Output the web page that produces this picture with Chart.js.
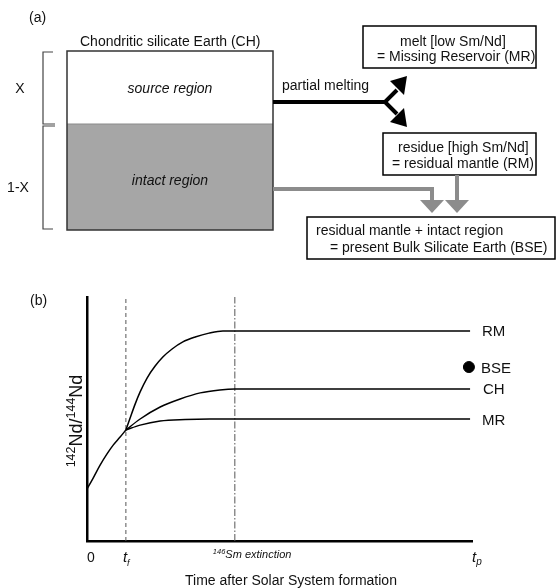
<!DOCTYPE html>
<html>
<head>
<meta charset="utf-8">
<script src="https://cdn.jsdelivr.net/npm/chart.js@4.4.1/dist/chart.umd.min.js"></script>
<style>
  body { margin: 0; background: #fff; }
  #wrap { position: relative; width: 556px; height: 588px; overflow: hidden; }
  #chart { position: absolute; left: 0; top: 0; }
  #panelA { position: absolute; left: 0; top: 0; }
  #panelA text { font-family: "Liberation Sans", Arial, sans-serif; font-size: 14px; fill: #111; }
</style>
</head>
<body>
<div id="wrap">
<canvas id="chart" width="556" height="588"></canvas>
<svg id="panelA" width="556" height="270">
  <text x="29" y="22">(a)</text>
  <text x="80" y="46">Chondritic silicate Earth (CH)</text>

  <!-- CH box -->
  <rect x="67" y="124" width="206" height="106" fill="#a6a6a6" />
  <line x1="67" y1="124" x2="273" y2="124" stroke="#8a8a8a" stroke-width="1" />
  <rect x="67" y="51" width="206" height="179" fill="none" stroke="#333" stroke-width="1.5" />
  <text x="170" y="93" text-anchor="middle" font-style="italic">source region</text>
  <text x="170" y="185" text-anchor="middle" font-style="italic">intact region</text>

  <!-- brackets -->
  <path d="M53 52 H43 V124 H55" fill="none" stroke="#444" stroke-width="1.2" />
  <path d="M55 126 H43 V229 H53" fill="none" stroke="#444" stroke-width="1.2" />
  <text x="20" y="93" text-anchor="middle">X</text>
  <text x="18" y="192" text-anchor="middle">1-X</text>

  <!-- partial melting -->
  <text x="282" y="90">partial melting</text>
  <path d="M273 102 H385 L397 90 M385 102 L397 114" fill="none" stroke="#000" stroke-width="4" />
  <polygon points="407,76 390,81 397,88 404,95" fill="#000" />
  <polygon points="407,127 404,108 397,115 390,122" fill="#000" />

  <!-- melt box -->
  <rect x="363" y="26" width="173" height="42" fill="#fff" stroke="#000" stroke-width="1.5" />
  <text x="400" y="46">melt [low Sm/Nd]</text>
  <text x="377" y="61">= Missing Reservoir (MR)</text>

  <!-- residue box -->
  <rect x="383" y="133" width="153" height="42" fill="#fff" stroke="#000" stroke-width="1.5" />
  <text x="398" y="152">residue [high Sm/Nd]</text>
  <text x="392" y="168">= residual mantle (RM)</text>

  <!-- gray arrows -->
  <path d="M273 189 H432 V202" fill="none" stroke="#8c8c8c" stroke-width="4" />
  <polygon points="420,200 444,200 432,213" fill="#8c8c8c" />
  <path d="M457 175 V202" fill="none" stroke="#8c8c8c" stroke-width="4" />
  <polygon points="445,200 469,200 457,213" fill="#8c8c8c" />

  <!-- BSE box -->
  <rect x="307" y="217" width="248" height="42" fill="#fff" stroke="#000" stroke-width="1.5" />
  <text x="316" y="235">residual mantle + intact region</text>
  <text x="330" y="252">= present Bulk Silicate Earth (BSE)</text>
</svg>
</div>
<script>
// time axis: 0 = Solar System formation, 100 = present (t_p)
const tf = 10.1;
const tExtinction = 38.4;
const tPresent = 100;

// 142Nd/144Nd (arbitrary units) before differentiation
const growthTime = [0, 1.6, 3.4, 5.2, 6.8, 8.6, 10.1];
const growthNd = [21.3, 25.8, 31.1, 35.7, 39.3, 42.6, 45.5];

// residual mantle
const rmTime = [10.1, 11.2, 12.5, 13.8, 15.6, 17.7, 19.7, 22.1, 24.9, 28.1, 31.7, 35.3, 99.5];
const rmNd = [45.5, 50.4, 56.1, 61.1, 66.8, 71.7, 75.4, 78.7, 81.6, 83.6, 85.2, 86.1, 86.1];

// chondritic silicate Earth
const chTime = [10.1, 13.8, 19.0, 24.2, 29.4, 34.5, 38.4, 99.5];
const chNd = [45.5, 50.0, 54.9, 58.2, 60.7, 61.9, 62.3, 62.3];

// missing reservoir
const mrTime = [10.1, 13.8, 19.0, 25.5, 31.9, 99.5];
const mrNd = [45.5, 47.5, 49.2, 49.8, 50.0, 50.0];

// present bulk silicate Earth
const bseTime = [99.2];
const bseNd = [71.3];

const fontFamily = '"Liberation Sans", Arial, sans-serif';

function toPoints(xs, ys) {
    return xs.map((x, i) => ({ x: x, y: ys[i] }));
}

function curve(xs, ys) {
    return {
        data: toPoints(xs, ys),
        borderColor: "#000",
        borderWidth: 1.5,
        pointRadius: 0,
        cubicInterpolationMode: "monotone",
        fill: false
    };
}

function vline(t, dash) {
    return {
        data: [{ x: t, y: 0 }, { x: t, y: 100 }],
        borderColor: "#555",
        borderWidth: 1,
        borderDash: dash,
        pointRadius: 0,
        fill: false
    };
}

// draw a run of text pieces (for super/subscripts)
function drawRich(ctx, parts, x, y, align) {
    let total = 0;
    parts.forEach(p => {
        ctx.font = p.font;
        p.w = ctx.measureText(p.text).width;
        total += p.w;
    });
    let cx = x;
    if (align === "center") cx = x - total / 2;
    ctx.textAlign = "left";
    ctx.textBaseline = "alphabetic";
    parts.forEach(p => {
        ctx.font = p.font;
        ctx.fillText(p.text, cx, y + (p.dy || 0));
        cx += p.w;
    });
}

const textPlugin = {
    id: "textPlugin",
    afterDraw(chart) {
        const ctx = chart.ctx;
        const x = chart.scales.x;
        const y = chart.scales.y;
        ctx.save();
        ctx.fillStyle = "#111";

        ctx.font = "14px " + fontFamily;
        ctx.textAlign = "left";
        ctx.fillText("(b)", 30, 305);

        // curve labels
        const lx = x.getPixelForValue(tPresent) + 10;
        ctx.font = "15px " + fontFamily;
        ctx.fillText("RM", lx, y.getPixelForValue(rmNd[rmNd.length - 1]) + 5.5);
        ctx.fillText("BSE", lx - 1, y.getPixelForValue(bseNd[0]) + 5.5);
        ctx.fillText("CH", lx + 1, y.getPixelForValue(chNd[chNd.length - 1]) + 5.5);
        ctx.fillText("MR", lx, y.getPixelForValue(mrNd[mrNd.length - 1]) + 5.5);

        // x tick labels
        const by = chart.chartArea.bottom + 21;
        ctx.font = "14px " + fontFamily;
        ctx.fillText("0", x.getPixelForValue(0), by);
        drawRich(ctx, [
            { text: "t", font: "italic 15px " + fontFamily },
            { text: "f", font: "italic 9px " + fontFamily, dy: 4 }
        ], x.getPixelForValue(tf) - 3, by);
        drawRich(ctx, [
            { text: "146", font: "italic 7.5px " + fontFamily, dy: -4 },
            { text: "Sm extinction", font: "italic 11px " + fontFamily }
        ], x.getPixelForValue(tExtinction) - 22, by - 4);
        drawRich(ctx, [
            { text: "t", font: "italic 15px " + fontFamily },
            { text: "p", font: "italic 10px " + fontFamily, dy: 3 }
        ], x.getPixelForValue(tPresent), by);

        // x title
        ctx.font = "14px " + fontFamily;
        ctx.textAlign = "center";
        ctx.fillText("Time after Solar System formation", 291, 585);

        // y title
        ctx.translate(82, 421);
        ctx.rotate(-Math.PI / 2);
        drawRich(ctx, [
            { text: "142", font: "12.5px " + fontFamily, dy: -7 },
            { text: "Nd/", font: "18px " + fontFamily },
            { text: "144", font: "12.5px " + fontFamily, dy: -7 },
            { text: "Nd", font: "18px " + fontFamily }
        ], 0, 0, "center");
        ctx.restore();
    }
};

new Chart(document.getElementById("chart"), {
    type: "line",
    data: {
        datasets: [
            {
                data: toPoints(bseTime, bseNd),
                showLine: false,
                clip: false,
                pointRadius: 5.5,
                pointBackgroundColor: "#000",
                pointBorderColor: "#000"
            },
            curve(growthTime, growthNd),
            curve(rmTime, rmNd),
            curve(chTime, chNd),
            curve(mrTime, mrNd),
            vline(tf, [4, 3]),
            vline(tExtinction, [7, 2, 1.5, 2])
        ]
    },
    options: {
        responsive: false,
        animation: false,
        devicePixelRatio: 1,
        layout: { padding: { left: 87, top: 297, right: 84, bottom: 47 } },
        plugins: {
            legend: { display: false },
            tooltip: { enabled: false }
        },
        scales: {
            x: {
                type: "linear",
                min: 0,
                max: 100,
                grid: { display: false, drawTicks: false },
                ticks: { display: false },
                border: { display: true, color: "#000", width: 2.5 }
            },
            y: {
                type: "linear",
                min: 0,
                max: 100,
                grid: { display: false, drawTicks: false },
                ticks: { display: false },
                border: { display: true, color: "#000", width: 2.5 }
            }
        }
    },
    plugins: [textPlugin]
});
</script>
</body>
</html>
